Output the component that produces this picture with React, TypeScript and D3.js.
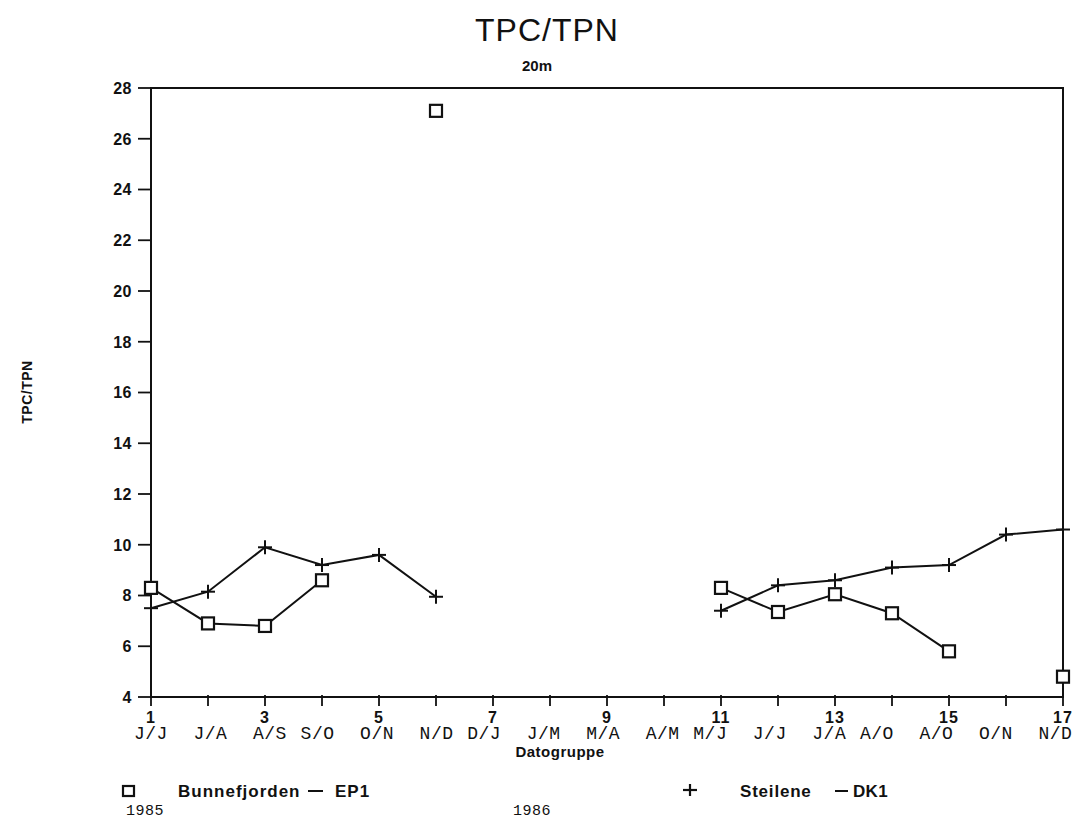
import React from "react";
import * as d3 from "d3";

const groups = d3.range(1, 18);
const monthLabels = ["J/J","J/A","A/S","S/O","O/N","N/D","D/J","J/M","M/A","A/M","M/J","J/J","J/A","A/O","A/O","O/N","N/D"];
const yTicks = [4,6,8,10,12,14,16,18,20,22,24,26,28];
const xNumTicks = [1,3,5,7,9,11,13,15,17];
// null = missing value (breaks the line)
const bunnefjorden: (number | null)[] = [8.3, 6.9, 6.8, 8.6, null, 27.1, null, null, null, null, 8.3, 7.35, 8.05, 7.3, 5.8, null, 4.8];
const steilene: (number | null)[] = [7.5, 8.15, 9.9, 9.2, 9.6, 7.95, null, null, null, null, 7.4, 8.4, 8.6, 9.1, 9.2, 10.4, 10.6];

const W = 1081, H = 819;
const L = 151, R = 1063, T = 88, B = 697;
const sans = "'Liberation Sans', Arial, sans-serif";
const mono = "'Liberation Mono', 'Courier New', monospace";
// monospace label line: number of blank characters before each label
const labelGaps = [0, 2, 2, 1, 2, 2, 1, 2, 2, 2, 1, 2, 2, 1, 2, 2, 2];
const CH = 11.9; // character pitch of the label line

export default function App() {
  const x = d3.scaleLinear().domain([1, 17]).range([L, R]);
  const y = d3.scaleLinear().domain([4, 28]).range([B, T]);
  const line = d3.line<number | null>()
    .defined((d) => d !== null)
    .x((_, i) => x(groups[i]))
    .y((d) => y(d as number));
  const pts = (arr: (number | null)[]) =>
    arr.map((v, i) => ({ g: groups[i], v })).filter((p) => p.v !== null) as { g: number; v: number }[];

  let pos = 0;
  const labelPos = monthLabels.map((m, i) => {
    pos += labelGaps[i];
    const p = pos;
    pos += m.length;
    return 134 + p * CH;
  });

  return (
    <svg width={W} height={H} style={{ position: "absolute", left: 0, top: 0, background: "#fff" }}>
      <rect width={W} height={H} fill="#fff" />
      <text x={547} y={41} textAnchor="middle" fontFamily={sans} fontSize={32} letterSpacing={1} fill="#111">TPC/TPN</text>
      <text x={537} y={71} textAnchor="middle" fontFamily={sans} fontWeight="bold" fontSize={15} fill="#111">20m</text>

      {/* frame */}
      <rect x={L} y={T} width={R - L} height={B - T} fill="none" stroke="#111" strokeWidth={2} />

      {/* y axis ticks */}
      {yTicks.map((t) => (
        <g key={t}>
          <line x1={L - 13} x2={L} y1={y(t)} y2={y(t)} stroke="#111" strokeWidth={1.8} />
          <text x={132} y={y(t)} dy="0.36em" textAnchor="end" fontFamily={sans} fontWeight="bold" fontSize={16} letterSpacing={0.5} fill="#111">{t}</text>
        </g>
      ))}
      <text transform={`translate(32,${392}) rotate(-90)`} textAnchor="middle" fontFamily={sans} fontWeight="bold" fontSize={14} letterSpacing={0.5} fill="#111">TPC/TPN</text>

      {/* x axis ticks */}
      {groups.map((g) => (
        <line key={g} x1={x(g)} x2={x(g)} y1={B - 2} y2={B + 9} stroke="#111" strokeWidth={1.8} />
      ))}
      {xNumTicks.map((g) => (
        <text key={g} x={x(g)} y={723} textAnchor="middle" fontFamily={sans} fontWeight="bold" fontSize={16} letterSpacing={1} fill="#111">{g}</text>
      ))}
      {monthLabels.map((m, i) => (
        <text key={i} x={labelPos[i]} y={739} fontFamily={mono} fontSize={18} letterSpacing={0.5} fill="#111">{m}</text>
      ))}
      <text x={560} y={757} textAnchor="middle" fontFamily={sans} fontWeight="bold" fontSize={15} letterSpacing={0.5} fill="#111">Datogruppe</text>

      {/* series lines */}
      <path d={line(bunnefjorden) || ""} fill="none" stroke="#111" strokeWidth={2} />
      <path d={line(steilene) || ""} fill="none" stroke="#111" strokeWidth={2} />

      {pts(bunnefjorden).map((p) => (
        <rect key={"b" + p.g} x={x(p.g) - 6} y={y(p.v) - 6} width={12} height={12} fill="#fff" stroke="#111" strokeWidth={2.2} />
      ))}
      {pts(steilene).map((p) => (
        <g key={"s" + p.g} stroke="#111" strokeWidth={2}>
          <line x1={x(p.g) - 7} x2={x(p.g) + 7} y1={y(p.v)} y2={y(p.v)} />
          <line x1={x(p.g)} x2={x(p.g)} y1={y(p.v) - 7} y2={y(p.v) + 7} />
        </g>
      ))}

      {/* legend */}
      <rect x={123} y={786} width={11} height={10} fill="#fff" stroke="#111" strokeWidth={2.2} />
      <text x={178} y={797} fontFamily={sans} fontWeight="bold" fontSize={17} letterSpacing={1} fill="#111">Bunnefjorden</text>
      <line x1={308} x2={323} y1={791} y2={791} stroke="#111" strokeWidth={2} />
      <text x={335} y={797} fontFamily={sans} fontWeight="bold" fontSize={17} letterSpacing={1} fill="#111">EP1</text>
      <g stroke="#111" strokeWidth={2.2}>
        <line x1={683} x2={697} y1={790} y2={790} />
        <line x1={690} x2={690} y1={784} y2={796} />
      </g>
      <text x={740} y={797} fontFamily={sans} fontWeight="bold" fontSize={17} letterSpacing={0.8} fill="#111">Steilene</text>
      <line x1={835} x2={848} y1={791} y2={791} stroke="#111" strokeWidth={2} />
      <text x={853} y={797} fontFamily={sans} fontWeight="bold" fontSize={17} letterSpacing={0.3} fill="#111">DK1</text>
      <text x={126} y={815} fontFamily={mono} fontSize={15} letterSpacing={0.5} fill="#111">1985</text>
      <text x={513} y={815} fontFamily={mono} fontSize={15} letterSpacing={0.5} fill="#111">1986</text>
    </svg>
  );
}
